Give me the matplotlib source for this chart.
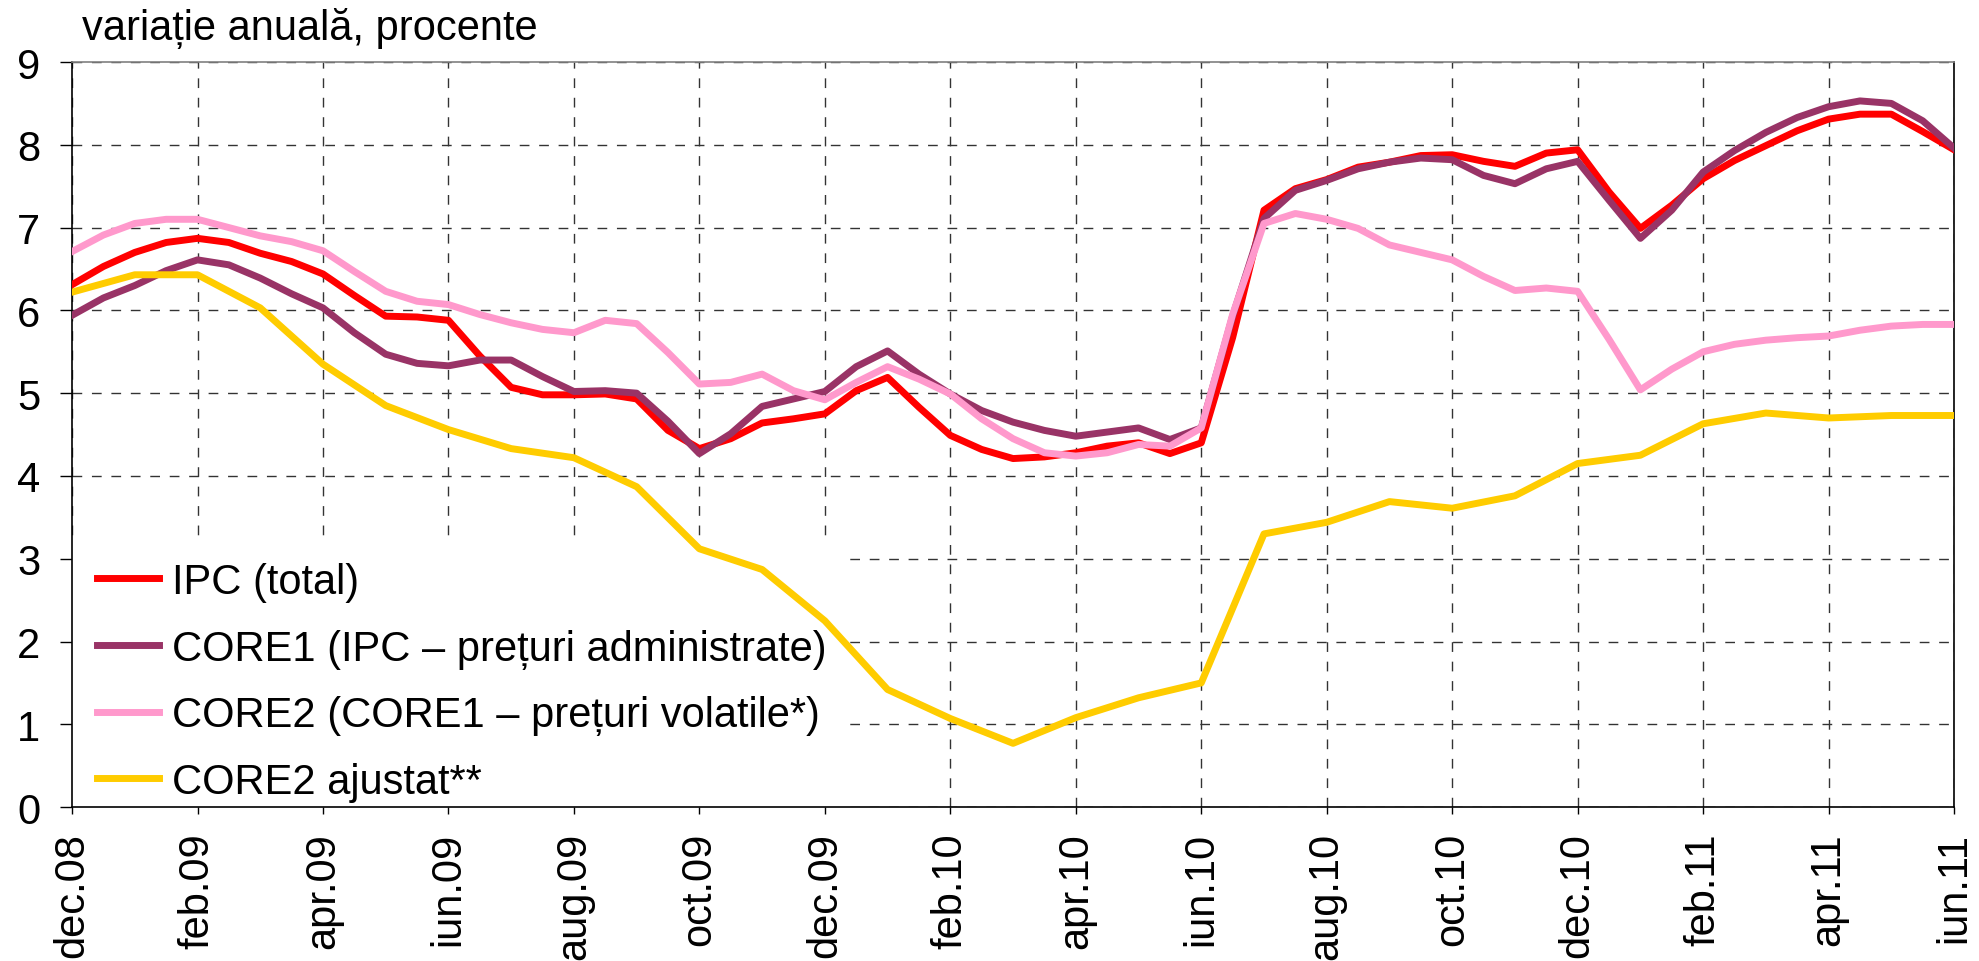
import numpy as np
import matplotlib
matplotlib.use("Agg")
import matplotlib.pyplot as plt
from matplotlib.patches import Rectangle

plt.rcParams['font.family'] = ['Liberation Sans', 'DejaVu Sans']

# tick labels, every 2 months from dec.08 to jun.11
month_labels = ["dec.08", "feb.09", "apr.09", "iun.09", "aug.09", "oct.09", "dec.09",
                "feb.10", "apr.10", "iun.10", "aug.10", "oct.10", "dec.10",
                "feb.11", "apr.11", "iun.11"]

# semi-monthly readings (dec.08 ... iun.11)
ipc = [6.31, 6.53, 6.70, 6.82, 6.87, 6.82, 6.69, 6.59, 6.44, 6.18,
       5.93, 5.92, 5.88, 5.45, 5.07, 4.98, 4.98, 4.99, 4.93, 4.55,
       4.33, 4.45, 4.64, 4.69, 4.75, 5.03, 5.19, 4.83, 4.49, 4.32,
       4.21, 4.23, 4.28, 4.36, 4.40, 4.27, 4.40, 5.67, 7.21, 7.47,
       7.58, 7.73, 7.79, 7.87, 7.88, 7.80, 7.74, 7.90, 7.94, 7.43,
       6.99, 7.27, 7.59, 7.81, 7.99, 8.17, 8.31, 8.37, 8.37, 8.16,
       7.94]
core1 = [5.94, 6.15, 6.30, 6.48, 6.61, 6.55, 6.39, 6.20, 6.03, 5.73,
         5.47, 5.36, 5.33, 5.40, 5.40, 5.20, 5.02, 5.03, 5.00, 4.66,
         4.27, 4.51, 4.84, 4.93, 5.02, 5.32, 5.51, 5.23, 4.99, 4.79,
         4.65, 4.55, 4.48, 4.53, 4.58, 4.44, 4.58, 5.93, 7.11, 7.45,
         7.57, 7.71, 7.79, 7.84, 7.82, 7.63, 7.53, 7.71, 7.80, 7.33,
         6.87, 7.21, 7.67, 7.93, 8.15, 8.33, 8.46, 8.53, 8.50, 8.29,
         7.96]
core2 = [6.71, 6.91, 7.05, 7.10, 7.10, 7.00, 6.90, 6.83, 6.72, 6.47,
         6.23, 6.11, 6.07, 5.95, 5.85, 5.77, 5.73, 5.88, 5.84, 5.49,
         5.11, 5.13, 5.23, 5.03, 4.92, 5.13, 5.32, 5.17, 4.99, 4.69,
         4.45, 4.28, 4.24, 4.28, 4.38, 4.36, 4.58, 5.95, 7.05, 7.17,
         7.10, 6.99, 6.79, 6.70, 6.61, 6.41, 6.24, 6.27, 6.23, 5.65,
         5.04, 5.29, 5.50, 5.59, 5.64, 5.67, 5.69, 5.76, 5.81, 5.83,
         5.83]
# monthly readings
core2_adj = [6.22, 6.43, 6.43, 6.03, 5.35, 4.85, 4.56, 4.33, 4.22, 3.87,
             3.12, 2.87, 2.25, 1.42, 1.07, 0.77, 1.08, 1.32, 1.50, 3.30,
             3.44, 3.69, 3.61, 3.76, 4.15, 4.25, 4.63, 4.76, 4.70, 4.73,
             4.73]

x_half = np.arange(len(ipc)) * 0.5
x_month = np.arange(len(core2_adj))

fig = plt.figure(figsize=(19.79, 9.62), dpi=100)
ax = fig.add_axes([0.0364, 0.160, 0.951, 0.7745])

lw = 5
ax.plot(x_half, ipc, color="#FF0000", lw=lw, label="IPC (total)", zorder=3)
ax.plot(x_half, core1, color="#993366", lw=lw, label="CORE1 (IPC – prețuri administrate)", zorder=3)
ax.plot(x_half, core2, color="#FF99CC", lw=lw, label="CORE2 (CORE1 – prețuri volatile*)", zorder=3)
ax.plot(x_month, core2_adj, color="#FFCC00", lw=lw, label="CORE2 ajustat**", zorder=3)

ax.set_xlim(0, 30)
ax.set_ylim(0, 9)
ax.set_yticks(range(10))
ax.set_xticks(range(0, 31, 2))
ax.set_xticklabels(month_labels, rotation=90)

ax.set_axisbelow(True)
ax.grid(True, linestyle=(0, (7, 7)), color="#333333", lw=1.0)

# white box behind the legend hides the grid there
ax.add_patch(Rectangle((0, 0), 0.413, 0.356, transform=ax.transAxes,
                       facecolor="white", edgecolor="none", zorder=1.5))

ax.tick_params(axis="y", direction="out", length=9, width=1, pad=14, labelsize=30)
ax.tick_params(axis="x", direction="out", length=5, width=1, pad=13, labelsize=30)

for s in ["left", "bottom", "right"]:
    ax.spines[s].set_color("black")
    ax.spines[s].set_linewidth(1.2)
ax.spines["top"].set_color("#808080")
ax.spines["top"].set_linewidth(1.2)

leg = ax.legend(loc="upper left", bbox_to_anchor=(0.0132, 0.329), frameon=False,
                fontsize=30, handlelength=1.5, handletextpad=0.3, labelspacing=0.64,
                borderpad=0, borderaxespad=0)

fig.text(82 / 1979, 0.958, "variație anuală, procente", fontsize=30, va="baseline", ha="left")

fig.savefig("out.png", dpi=100)
